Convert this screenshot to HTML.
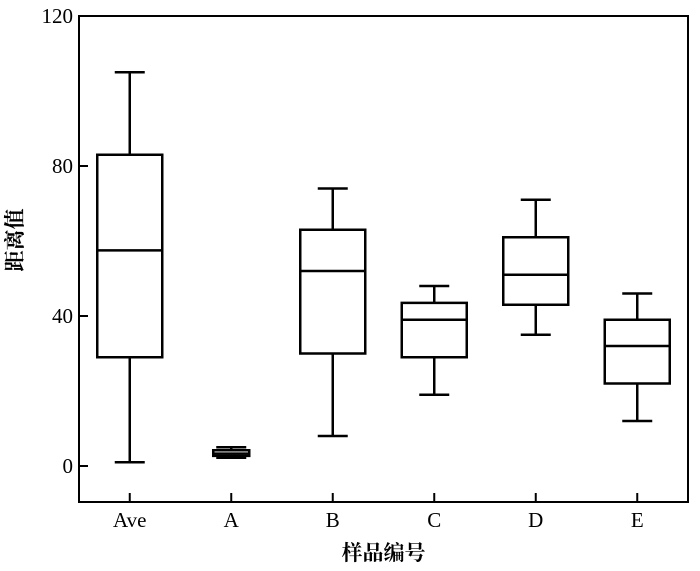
<!DOCTYPE html>
<html><head><meta charset="utf-8"><style>
body{margin:0;background:#fff;}
svg{display:block;font-family:"Liberation Serif","Noto Serif CJK SC",serif;}
</style></head><body>
<svg id="chart" width="700" height="571" viewBox="0 0 700 571"></svg>
<script>
const categories=["Ave","A","B","C","D","E"];
const mins=[1,2.2,8,19,35,12];
const q1s=[29,2.7,30,29,43,22];
const medians=[57.5,3.3,52,39,51,32];
const q3s=[83,4.2,63,43.5,61,39];
const maxs=[105,5,74,48,71,46];
const boxWidths=[65,36,65,65,65,65];
const yTicks=[0,40,80,120];
const NS="http://www.w3.org/2000/svg";
const svg=document.getElementById('chart');
const L=79,R=688,T=16,B=502;
const yMin=-9.6,yMax=120;
function y(v){return B-(v-yMin)/(yMax-yMin)*(B-T);}
const step=(R-L)/categories.length;
function x(i){return L+step*(i+0.5);}
function mk(tag,attrs){const e=document.createElementNS(NS,tag);for(const k in attrs)e.setAttribute(k,attrs[k]);svg.appendChild(e);return e;}
const frame=mk('rect',{x:L,y:T,width:R-L,height:B-T,fill:'none',stroke:'#000','stroke-width':2});


yTicks.forEach(t=>{
  const l=mk('line',{x1:L,x2:L+9,y1:y(t),y2:y(t),stroke:'#000','stroke-width':2});
  
  
  const tx=mk('text',{x:L-6,y:y(t)+7,'text-anchor':'end','font-size':21});
  tx.textContent=t;
  
  
});
categories.forEach((c,i)=>{
  const cx=x(i);
  const tk=mk('line',{x1:cx,x2:cx,y1:B,y2:B-9,stroke:'#000','stroke-width':2});
  
  
  const tl=mk('text',{x:cx,y:B+25,'text-anchor':'middle','font-size':21});
  tl.textContent=c;
  
  
  const g=document.createElementNS(NS,'g');svg.appendChild(g);
  
  
  const w=boxWidths[i],cap=30;
  function add(tag,a){const e=document.createElementNS(NS,tag);for(const k in a)e.setAttribute(k,a[k]);g.appendChild(e);return e;}
  const st={stroke:'#000','stroke-width':2.5,fill:'none'};
  add('line',Object.assign({x1:cx,x2:cx,y1:y(maxs[i]),y2:y(q3s[i])},st));
  add('line',Object.assign({x1:cx,x2:cx,y1:y(q1s[i]),y2:y(mins[i])},st));
  add('line',Object.assign({x1:cx-cap/2,x2:cx+cap/2,y1:y(maxs[i]),y2:y(maxs[i])},st));
  add('line',Object.assign({x1:cx-cap/2,x2:cx+cap/2,y1:y(mins[i]),y2:y(mins[i])},st));
  add('rect',Object.assign({x:cx-w/2,y:y(q3s[i]),width:w,height:y(q1s[i])-y(q3s[i])},st));
  add('line',Object.assign({x1:cx-w/2,x2:cx+w/2,y1:y(medians[i]),y2:y(medians[i])},st));
});
const xt=mk('text',{x:(L+R)/2,y:560,'text-anchor':'middle','font-size':21,'font-weight':'bold'});
xt.textContent='样品编号';


const yt=mk('text',{x:0,y:0,'text-anchor':'middle','font-size':21,'font-weight':'bold',transform:'translate(22,240) rotate(-90)'});
yt.textContent='距离值';


</script>
</body></html>
